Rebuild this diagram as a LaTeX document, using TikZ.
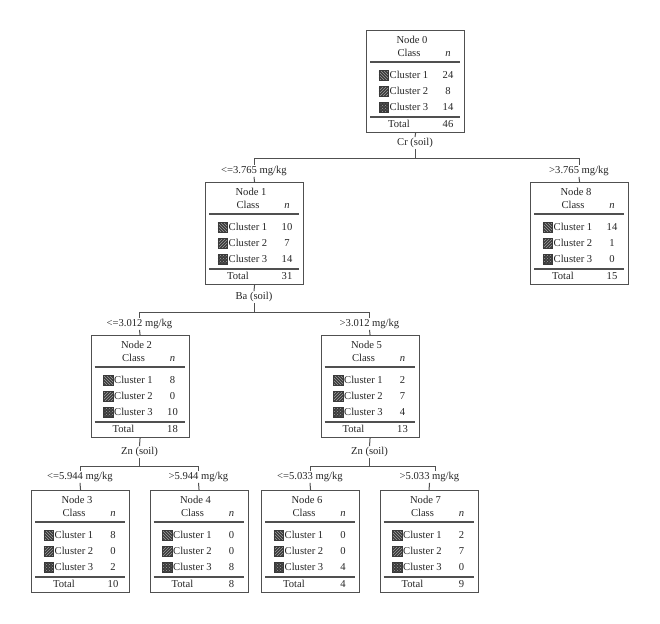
\documentclass[tikz,border=0pt]{standalone}
\usepackage{fontspec}
\setmainfont{Liberation Serif}
\usetikzlibrary{patterns}
\definecolor{linec}{HTML}{505050}
\definecolor{txtc}{HTML}{262626}
\definecolor{sqc}{HTML}{3A3A3A}
\definecolor{patc}{HTML}{A0A0A0}
\tikzset{
 box/.style={draw=linec, line width=1.1pt, minimum width=98pt, minimum height=102pt, inner sep=0pt, anchor=north west},
 txt/.style={font=\fontsize{10.6}{12}\selectfont, text=txtc, inner sep=0pt, anchor=base},
 lbl/.style={font=\fontsize{10.6}{12}\selectfont, text=txtc, inner sep=1pt, text height=7pt, text depth=2.5pt},
 conn/.style={draw=linec, line width=1pt},
 rulel/.style={draw=linec, line width=1.1pt},
 sq/.style={preaction={fill=sqc}, draw=sqc, line width=0.3pt, minimum size=9.5pt, inner sep=0pt, pattern color=patc},
}
\newcommand\clrow[5]{%
  \node[sq, pattern=#3] (#1-sq) at (17.5,#2) {};
  \node[txt, anchor=base west] (#1-lab) at (23.5,#2+3.7) {#4};
  \node[txt] (#1-val) at (82,#2+3.7) {#5};
}
\newcommand\treebox[8]{%
 \begin{scope}[shift={(#2-49,#3)}]
  \node[box] (#1) at (0,0) {};
  \node[txt] (#1-ti) at (46,13.7) {#4};
  \node[txt] (#1-cl) at (43,26.7) {Class};
  \node[txt] (#1-nh) at (82,26.7) {\textit{n}};
  \draw[rulel] (4,32) -- (94,32);
  \clrow{#1-r1}{45}{north west lines}{Cluster 1}{#5}
  \clrow{#1-r2}{61}{north east lines}{Cluster 2}{#6}
  \clrow{#1-r3}{77}{crosshatch dots}{Cluster 3}{#7}
  \draw[rulel] (4,87) -- (94,87);
  \node[txt] (#1-tl) at (33,97.7) {Total};
  \node[txt] (#1-tv) at (82,97.7) {#8};
 \end{scope}}
\begin{document}
\begin{tikzpicture}[x=1pt,y=-1pt]
\useasboundingbox[fill=white] (0,0) rectangle (660,623);
% boxes
\treebox{n0}{415}{30}{Node 0}{24}{8}{14}{46}
\treebox{n1}{254}{182}{Node 1}{10}{7}{14}{31}
\treebox{n8}{579}{182}{Node 8}{14}{1}{0}{15}
\treebox{n2}{139.5}{335}{Node 2}{8}{0}{10}{18}
\treebox{n5}{369.5}{335}{Node 5}{2}{7}{4}{13}
\treebox{n3}{80}{490}{Node 3}{8}{0}{2}{10}
\treebox{n4}{198.5}{490}{Node 4}{0}{0}{8}{8}
\treebox{n6}{310}{490}{Node 6}{0}{0}{4}{4}
\treebox{n7}{428.5}{490}{Node 7}{2}{7}{0}{9}
% split 0
\node[lbl] (s0) at (415,143) {Cr (soil)};
\coordinate (h0) at (415,158);
\coordinate (h0l) at (254,158);
\coordinate (h0r) at (579,158);
\node[lbl] (e1) at (254,171) {<=3.765 mg/kg};
\node[lbl] (e8) at (579,171) {>3.765 mg/kg};
\draw[conn] (n0.south) -- (s0.north);
\draw[conn] (s0.south) -- (h0);
\draw[conn] (h0l) -- (h0r);
\draw[conn] (h0l) -- (e1.north);
\draw[conn] (h0r) -- (e8.north);
\draw[conn] (e1.south) -- (n1.north);
\draw[conn] (e8.south) -- (n8.north);
% split 1
\node[lbl] (s1) at (254,297) {Ba (soil)};
\coordinate (h1) at (254,312);
\coordinate (h1l) at (139.5,312);
\coordinate (h1r) at (369.5,312);
\node[lbl] (e2) at (139.5,324) {<=3.012 mg/kg};
\node[lbl] (e5) at (369.5,324) {>3.012 mg/kg};
\draw[conn] (n1.south) -- (s1.north);
\draw[conn] (s1.south) -- (h1);
\draw[conn] (h1l) -- (h1r);
\draw[conn] (h1l) -- (e2.north);
\draw[conn] (h1r) -- (e5.north);
\draw[conn] (e2.south) -- (n2.north);
\draw[conn] (e5.south) -- (n5.north);
% split 2
\node[lbl] (s2) at (139.5,452) {Zn (soil)};
\coordinate (h2) at (139.5,466);
\coordinate (h2l) at (80,466);
\coordinate (h2r) at (198.5,466);
\node[lbl] (e3) at (80,477) {<=5.944 mg/kg};
\node[lbl] (e4) at (198.5,477) {>5.944 mg/kg};
\draw[conn] (n2.south) -- (s2.north);
\draw[conn] (s2.south) -- (h2);
\draw[conn] (h2l) -- (h2r);
\draw[conn] (h2l) -- (e3.north);
\draw[conn] (h2r) -- (e4.north);
\draw[conn] (e3.south) -- (n3.north);
\draw[conn] (e4.south) -- (n4.north);
% split 5
\node[lbl] (s5) at (369.5,452) {Zn (soil)};
\coordinate (h5) at (369.5,466);
\coordinate (h5l) at (310,466);
\coordinate (h5r) at (435,466);
\node[lbl] (e6) at (310,477) {<=5.033 mg/kg};
\node[lbl] (e7) at (429.5,477) {>5.033 mg/kg};
\draw[conn] (n5.south) -- (s5.north);
\draw[conn] (s5.south) -- (h5);
\draw[conn] (h5l) -- (h5r);
\draw[conn] (h5l) -- (e6.north);
\draw[conn] (h5r) -- (h5r |- e7.north);
\draw[conn] (e6.south) -- (n6.north);
\draw[conn] (e7.south) -- (n7.north);
\end{tikzpicture}
\end{document}
